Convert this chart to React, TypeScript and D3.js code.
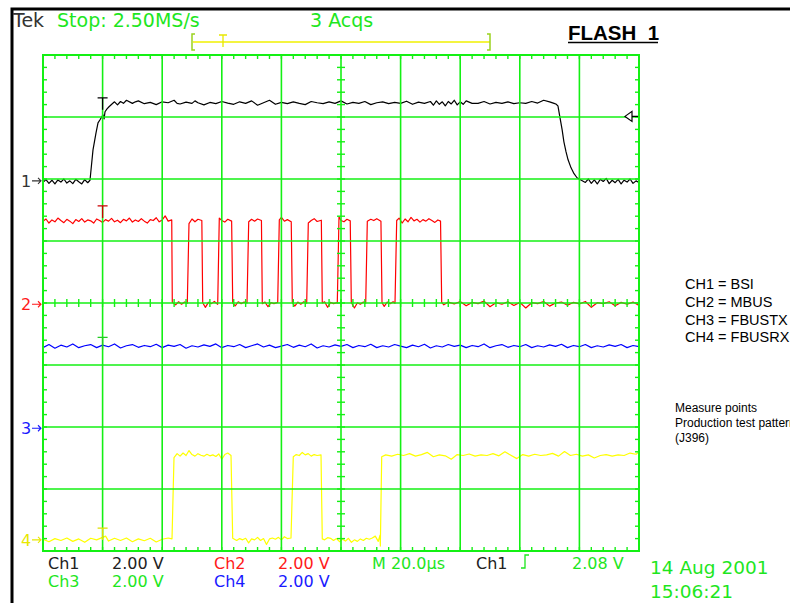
import React, { useRef, useEffect } from 'react';
import * as d3 from 'd3';

type Pt = [number, number]; // [time in µs, volts]

const W = 790;
const H = 603;

// 20 µs/div, trigger one division from the left edge
const timeDomain: [number, number] = [-20, 180];
const timeDivs = [-20, 0, 20, 40, 60, 80, 100, 120, 140, 160, 180];
const voltsPerDiv = 2;

const channelNames = ['1', '2', '3', '4'];
const traceColors = ['#000000', '#ff0000', '#0000ff', '#ffff00'];
const markerColors = ['#333333', '#ff1a1a', '#1a1aff', '#e8e800'];
// ground reference of each channel, in divisions above the bottom
const channelOffsets = [5.97, 3.98, 1.98, 0.18];
const triggerLevel = 2.08;
// "T" trigger markers above each trace (volts)
const triggerMarks = [2.68, 3.17, 2.93, 0.38];
const triggerMarkColors = ['#000000', '#cc0000', '#22cc22', '#e0e000'];

const legendLines = ['CH1 = BSI', 'CH2 = MBUS', 'CH3 = FBUSTX', 'CH4 = FBUSRX'];
const noteLines = ['Measure points', 'Production test pattern', '(J396)'];

// CH1 = BSI
const ch1: Pt[] = [
  [-20, -0.05], [-19, 0.04], [-18, -0.08], [-17, 0.02], [-16, -0.1], [-15, 0.03], [-14, -0.04], [-13, 0.06],
  [-12, -0.07], [-11, 0], [-10, -0.09], [-9, 0.05], [-8, -0.03], [-7, -0.1], [-6, 0.04], [-5, -0.06], [-4.23, 0.02],
  [-3.89, 0.35], [-3.22, 1.0], [-2.21, 1.55], [-1.54, 1.87], [-0.87, 1.97], [0.13, 2.13], [0.5, 2.0], [0.81, 2.23],
  [1.48, 2.32], [2.15, 2.39], [3.15, 2.48],
  [4, 2.55], [5, 2.45], [6, 2.56], [7, 2.5], [8, 2.6], [10, 2.5], [11, 2.55], [12, 2.58], [14, 2.49], [16, 2.53], [18, 2.46],
  [20, 2.55], [22, 2.52], [24, 2.6], [25, 2.5], [26, 2.48], [28, 2.54], [30, 2.5], [31, 2.58], [32, 2.52], [34, 2.45], [36, 2.53],
  [38, 2.49], [40, 2.56], [42, 2.51], [44, 2.47], [46, 2.55], [48, 2.5], [50, 2.58], [52, 2.44], [54, 2.52], [56, 2.6],
  [58, 2.47], [60, 2.53], [62, 2.49], [64, 2.55], [66, 2.5], [68, 2.46], [70, 2.56], [72, 2.52], [74, 2.49], [76, 2.55],
  [78, 2.5], [80, 2.58], [82, 2.48], [84, 2.53], [86, 2.5], [88, 2.56], [90, 2.46], [92, 2.52], [94, 2.55], [96, 2.49],
  [98, 2.53], [100, 2.5], [102, 2.57], [104, 2.47], [106, 2.54], [108, 2.5], [110, 2.56], [111, 2.44], [112, 2.58],
  [113, 2.47], [114, 2.55], [115, 2.42], [116, 2.56], [117, 2.48], [118, 2.6], [119, 2.45], [120, 2.55], [121, 2.47],
  [122, 2.58], [124, 2.5], [126, 2.5], [128, 2.56], [130, 2.48], [132, 2.53], [134, 2.5], [136, 2.55], [138, 2.49],
  [140, 2.52], [142, 2.5], [144, 2.56], [146, 2.51], [148, 2.6], [150, 2.55], [151.5, 2.5],
  [152.1, 2.48], [152.8, 2.42], [153.5, 2.03], [154.2, 1.65], [154.8, 1.26], [155.5, 0.94], [156.2, 0.68], [157.2, 0.42],
  [158.2, 0.23], [159.2, 0.1], [160.5, 0.03],
  [162, -0.05], [163, 0.06], [164, -0.08], [165, 0.03], [166, -0.1], [167, 0.05], [168, -0.02], [169, 0.08], [170, -0.09],
  [171, 0.02], [172, -0.06], [173, 0.05], [174, -0.1], [175, 0.02], [176, -0.04], [177, 0.06], [178, -0.08], [179, 0], [180, -0.05],
];

// CH2 = MBUS
const ch2: Pt[] = [
  [-20, 2.68], [-19, 2.75], [-18, 2.62], [-17, 2.72], [-16, 2.66], [-15, 2.78], [-14, 2.7], [-13, 2.63], [-12, 2.74],
  [-11, 2.68], [-10, 2.6], [-9, 2.73], [-8, 2.67], [-7, 2.76], [-6, 2.65], [-5, 2.72], [-4, 2.69], [-3, 2.62], [-2, 2.75],
  [-1, 2.7], [0, 2.64], [1, 2.73], [2, 2.68], [3, 2.77], [4, 2.66], [5, 2.71], [6, 2.63], [7, 2.74], [8, 2.69], [9, 2.78],
  [10, 2.65], [11, 2.72], [12, 2.67], [13, 2.76], [14, 2.68], [15, 2.62], [16, 2.73], [17, 2.7], [18, 2.79], [19, 2.66],
  [20, 2.72], [21, 2.85], [22, 2.68], [23.2, 2.72],
  [23.39, 0.06], [24.5, -0.02], [25.5, 0.08], [26.5, 0], [27.5, 0.07], [28.42, 0.03],
  [28.99, 2.6], [30, 2.75], [31, 2.66], [32, 2.74], [33.3, 2.7],
  [33.59, 0.05], [34.5, -0.1], [35.5, 0.06], [36.5, 0.02], [37.5, 0.09], [38.62, 0],
  [39.16, 2.78], [40, 2.7], [41, 2.65], [42, 2.74], [43.3, 2.68],
  [43.66, 0.04], [44.5, -0.05], [45.5, 0.08], [46.5, 0.02], [47.5, 0.07], [48.46, 0.04],
  [49.03, 2.66], [50, 2.74], [51, 2.68], [52, 2.75], [53.3, 2.7],
  [53.59, 0.02], [54.5, 0.07], [55.5, -0.08], [56.5, 0.05], [57.5, 0.02], [58.76, 0.06],
  [59.3, 2.72], [60, 2.8], [61, 2.68], [62, 2.73], [63.3, 2.66],
  [63.66, 0.05], [64.5, -0.06], [65.5, 0.07], [66.5, 0], [67.5, 0.08], [68.49, 0.03],
  [69.03, 2.62], [70, 2.7], [71, 2.76], [72, 2.67], [73.4, 2.71],
  [73.72, 0.04], [74.5, 0.08], [75.5, -0.1], [76.5, 0.06], [77.5, 0.02], [78.76, 0.05],
  [79.33, 2.82], [80, 2.7], [81, 2.66], [82, 2.74], [83.1, 2.69],
  [83.46, 0.06], [84.5, -0.12], [85.5, 0.05], [86.5, 0], [87.5, 0.07], [88.29, 0.03],
  [88.83, 2.68], [90, 2.74], [91, 2.7], [92, 2.76], [93.4, 2.68],
  [93.76, 0.05], [94.5, -0.07], [95.5, 0.07], [96.5, 0.02], [97.5, 0.08], [98.12, 0.03],
  [98.69, 2.7], [99.5, 2.78], [100.5, 2.62], [101.5, 2.75], [102.5, 2.66], [103.5, 2.8], [104.5, 2.69], [105.5, 2.74],
  [106.5, 2.65], [107.5, 2.73], [108.5, 2.68], [109.5, 2.76], [110.5, 2.7], [111.5, 2.64], [112.5, 2.72], [113.4, 2.68],
  [113.79, 0.06], [114.5, -0.02], [116, 0.07], [118, 0.01], [120, 0.09], [122, -0.05], [124, 0.06], [126, 0.02], [128, 0.1],
  [130, -0.08], [132, 0.05], [134, 0], [136, 0.08], [138, -0.04], [140, 0.06], [142, -0.12], [144, 0.05], [146, 0.02],
  [148, 0.09], [150, -0.06], [152, 0.04], [154, 0.07], [156, -0.03], [158, 0.06], [160, 0.01], [162, 0.09], [164, -0.1],
  [166, 0.05], [168, 0.02], [170, 0.08], [172, -0.05], [174, 0.06], [176, 0], [178, 0.07], [180, -0.04],
];

// CH3 = FBUSTX
const ch3: Pt[] = [
  [-20, 2.6], [-18, 2.7], [-16, 2.58], [-14, 2.68], [-12, 2.62], [-10, 2.72], [-8, 2.6], [-6, 2.66], [-4, 2.7], [-2, 2.6],
  [0, 2.68], [2, 2.63], [4, 2.72], [6, 2.59], [8, 2.66], [10, 2.7], [12, 2.61], [14, 2.67], [16, 2.63], [18, 2.71],
  [20, 2.6], [22, 2.68], [24, 2.64], [26, 2.7], [28, 2.58], [30, 2.66], [32, 2.62], [34, 2.69], [36, 2.64], [38, 2.72],
  [40, 2.6], [42, 2.67], [44, 2.63], [46, 2.7], [48, 2.6], [50, 2.66], [52, 2.72], [54, 2.62], [56, 2.68], [58, 2.6],
  [60, 2.65], [62, 2.7], [64, 2.61], [66, 2.68], [68, 2.63], [70, 2.72], [72, 2.59], [74, 2.66], [76, 2.62], [78, 2.69],
  [80, 2.64], [82, 2.7], [84, 2.6], [86, 2.67], [88, 2.63], [90, 2.71], [92, 2.6], [94, 2.66], [96, 2.62], [98, 2.7],
  [100, 2.65], [102, 2.6], [104, 2.68], [106, 2.63], [108, 2.71], [110, 2.59], [112, 2.66], [114, 2.62], [116, 2.7],
  [118, 2.64], [120, 2.68], [122, 2.6], [124, 2.67], [126, 2.63], [128, 2.72], [130, 2.6], [132, 2.66], [134, 2.7],
  [136, 2.61], [138, 2.67], [140, 2.63], [142, 2.7], [144, 2.6], [146, 2.66], [148, 2.62], [150, 2.69], [152, 2.64],
  [154, 2.71], [156, 2.6], [158, 2.67], [160, 2.63], [162, 2.7], [164, 2.6], [166, 2.66], [168, 2.62], [170, 2.69],
  [172, 2.64], [174, 2.7], [176, 2.6], [178, 2.67], [180, 2.63],
];

// CH4 = FBUSRX
const ch4: Pt[] = [
  [-20, 0.02], [-18, -0.06], [-16, 0.04], [-14, -0.02], [-12, 0.06], [-10, -0.05], [-8, 0.03], [-6, -0.08], [-4, 0.05],
  [-2, 0], [0, 0.08], [1, 0.12], [2, -0.04], [4, 0.05], [6, -0.02], [8, 0.06], [10, -0.06], [12, 0.03], [14, -0.03],
  [16, 0.05], [18, -0.07], [20, 0.02], [22, 0.06], [23.29, 0.03],
  [23.96, 2.65], [25, 2.78], [26, 2.7], [27, 2.8], [28, 2.72], [29, 2.88], [30, 2.75], [31, 2.7], [32, 2.78], [33, 2.73],
  [34, 2.7], [35, 2.76], [36, 2.71], [37, 2.74], [38, 2.69], [39, 2.77], [40, 2.6], [41, 2.75], [42, 2.8], [43.09, 2.72],
  [43.66, 0.05], [45, -0.02], [46, 0.04], [47, 0], [48, 0.05], [49, -0.1], [50, 0.03], [51, 0], [52, 0.08], [53, -0.02],
  [54, 0.04], [55, -0.15], [56, 0.03], [57, 0.06], [58, 0.02], [59, 0.08], [60, 0], [61, 0.1], [62, 0.04], [63.22, 0.06],
  [63.99, 2.68], [65, 2.75], [66, 2.72], [67, 2.82], [68, 2.74], [69, 2.78], [70, 2.7], [71, 2.75], [72, 2.72], [73.29, 2.74],
  [73.72, 0.03], [74.5, 0], [75.5, 0.07], [76.5, 0.05], [77.5, -0.02], [78.5, 0.04], [79.5, -0.06], [80.5, 0.02],
  [81.5, -0.04], [82.5, 0.05], [83.5, -0.08], [84.5, 0], [85.5, -0.05], [86.5, 0.03], [87.5, -0.02], [88.5, 0.05],
  [89.5, 0.02], [90.5, 0.06], [91.5, 0.12], [92.5, -0.05], [93.09, 0.15], [93.2, -0.2],
  [93.66, 2.68], [95, 2.74], [97, 2.7], [99, 2.76], [101, 2.72], [103, 2.78], [105, 2.7], [107, 2.75], [109, 2.82],
  [111, 2.68], [113, 2.74], [115, 2.71], [117, 2.6], [119, 2.75], [121, 2.72], [123, 2.77], [125, 2.7], [127, 2.74],
  [129, 2.72], [131, 2.78], [133, 2.71], [135, 2.84], [137, 2.73], [139, 2.62], [141, 2.75], [143, 2.7], [145, 2.76],
  [147, 2.72], [149, 2.74], [151, 2.79], [153, 2.7], [155, 2.85], [157, 2.72], [159, 2.76], [161, 2.7], [163, 2.74],
  [165, 2.64], [167, 2.72], [169, 2.75], [171, 2.7], [173, 2.74], [175, 2.72], [177, 2.8], [179, 2.76], [180, 2.83],
];

const traces = [ch1, ch2, ch3, ch4];

const GREEN = '#1ee61e';
const GRID = '#14f014';
const SCOPE_FONT = '"DejaVu Sans", sans-serif';
const ARIAL = '"Liberation Sans", Arial, sans-serif';

const Scope = () => {
  const svgRef = useRef<SVGSVGElement>(null);

  useEffect(() => {
    if (!svgRef.current) return;
    const svg = d3.select(svgRef.current);
    svg.selectAll('*').remove();

    const x = d3.scaleLinear().domain(timeDomain).range([43, 639]);
    const yDiv = d3.scaleLinear().domain([0, 8]).range([551, 55]);
    const yOf = (ci: number, v: number) => yDiv(channelOffsets[ci] + v / voltsPerDiv);

    svg.append('rect').attr('width', W).attr('height', H).attr('fill', '#fff');

    // black frame of the hardcopy
    svg.append('path')
      .attr('d', `M12,${H} V9 H${W}`)
      .attr('fill', 'none')
      .attr('stroke', '#000')
      .attr('stroke-width', 3);

    // traces
    traces.forEach((data, ci) => {
      const line = d3.line<Pt>()
        .x(d => x(d[0]))
        .y(d => yOf(ci, d[1]));
      svg.append('path')
        .datum(data)
        .attr('fill', 'none')
        .attr('stroke', traceColors[ci])
        .attr('stroke-width', 1.2)
        .attr('stroke-linejoin', 'round')
        .attr('d', line);
    });

    // graticule
    const g = svg.append('g').attr('stroke', GRID).attr('stroke-width', 1.6).attr('fill', 'none');
    const [x0, x1] = x.range();
    const [yb, yt] = yDiv.range();
    timeDivs.forEach(t => {
      g.append('line').attr('x1', x(t)).attr('x2', x(t)).attr('y1', yt).attr('y2', yb);
    });
    d3.range(0, 9).forEach(dv => {
      g.append('line').attr('x1', x0).attr('x2', x1).attr('y1', yDiv(dv)).attr('y2', yDiv(dv));
    });
    g.append('rect').attr('x', x0).attr('y', yt).attr('width', x1 - x0).attr('height', yb - yt).attr('stroke-width', 2);

    const xc = x(80);
    const yc = yDiv(4);
    const minorT = d3.range(timeDomain[0], timeDomain[1] + 0.1, 4);
    const minorV = d3.range(0, 8.01, 0.2);
    const tk = svg.append('g').attr('stroke', GRID).attr('stroke-width', 1.4);
    minorT.forEach(t => {
      tk.append('line').attr('x1', x(t)).attr('x2', x(t)).attr('y1', yt).attr('y2', yt + 4);
      tk.append('line').attr('x1', x(t)).attr('x2', x(t)).attr('y1', yb).attr('y2', yb - 4);
      tk.append('line').attr('x1', x(t)).attr('x2', x(t)).attr('y1', yc - 4).attr('y2', yc + 4);
    });
    minorV.forEach(dv => {
      tk.append('line').attr('x1', x0).attr('x2', x0 + 4).attr('y1', yDiv(dv)).attr('y2', yDiv(dv));
      tk.append('line').attr('x1', x1).attr('x2', x1 - 4).attr('y1', yDiv(dv)).attr('y2', yDiv(dv));
      tk.append('line').attr('x1', xc - 4).attr('x2', xc + 4).attr('y1', yDiv(dv)).attr('y2', yDiv(dv));
    });

    // trigger "T" markers
    triggerMarks.forEach((v, ci) => {
      const ty = yOf(ci, v);
      const tx = x(0);
      svg.append('path')
        .attr('d', `M${tx - 5},${ty} H${tx + 5} M${tx},${ty} V${ty + 12}`)
        .attr('stroke', triggerMarkColors[ci])
        .attr('stroke-width', 1.3)
        .attr('fill', 'none');
    });

    // trigger level arrow on the right
    const ly = yOf(0, triggerLevel);
    svg.append('path')
      .attr('d', `M625,${ly} L632,${ly - 5} L632,${ly + 5} Z M632,${ly} H638`)
      .attr('stroke', '#000')
      .attr('stroke-width', 1.2)
      .attr('fill', '#fff');

    // channel ground markers
    channelNames.forEach((name, ci) => {
      const gy = yOf(ci, 0);
      svg.append('text')
        .attr('x', 21)
        .attr('y', gy + 6)
        .attr('fill', markerColors[ci])
        .style('font-family', SCOPE_FONT)
        .style('font-size', '16px')
        .text(name);
      svg.append('path')
        .attr('d', `M32,${gy} H41 M38,${gy - 3} L41,${gy} L38,${gy + 3}`)
        .attr('stroke', markerColors[ci])
        .attr('stroke-width', 1.1)
        .attr('fill', 'none');
    });

    // header
    const header = [
      { t: 'Tek', x: 13, c: '#333' },
      { t: 'Stop: 2.50MS/s', x: 57, c: GREEN },
      { t: '3 Acqs', x: 310, c: GREEN },
    ];
    header.forEach(h => {
      svg.append('text')
        .attr('x', h.x).attr('y', 27)
        .attr('fill', h.c)
        .style('font-family', SCOPE_FONT)
        .style('font-size', '19px')
        .text(h.t);
    });

    // record position bar
    svg.append('line').attr('x1', 193).attr('x2', 490).attr('y1', 42).attr('y2', 42)
      .attr('stroke', '#f0f000').attr('stroke-width', 1.5);
    svg.append('path').attr('d', 'M195,34 H192 V50 H195 M487,34 H490 V50 H487')
      .attr('stroke', '#9ad21e').attr('stroke-width', 1.5).attr('fill', 'none');
    svg.append('path').attr('d', 'M219,35 H227 M223,35 V47')
      .attr('stroke', '#e8e800').attr('stroke-width', 1.3).attr('fill', 'none');

    // title
    svg.append('text')
      .attr('x', 568).attr('y', 40)
      .attr('fill', '#000')
      .style('font-family', ARIAL)
      .style('font-size', '20.5px')
      .style('font-weight', 'bold')
      .text('FLASH_1');
    svg.append('line').attr('x1', 568).attr('x2', 658).attr('y1', 42.5).attr('y2', 42.5)
      .attr('stroke', '#000').attr('stroke-width', 1.6);

    // legend
    legendLines.forEach((s, i) => {
      svg.append('text')
        .attr('x', 685).attr('y', 289 + i * 17.8)
        .attr('fill', '#000')
        .style('font-family', ARIAL)
        .style('font-size', '14.5px')
        .text(s);
    });
    noteLines.forEach((s, i) => {
      svg.append('text')
        .attr('x', 675).attr('y', 412 + i * 15)
        .attr('fill', '#000')
        .style('font-family', ARIAL)
        .style('font-size', '12px')
        .text(s);
    });

    // bottom readout
    const readout = [
      { t: 'Ch1', x: 48, y: 569, c: '#222' },
      { t: '2.00 V', x: 112, y: 569, c: '#222' },
      { t: 'Ch2', x: 214, y: 569, c: '#ff1a1a' },
      { t: '2.00 V', x: 278, y: 569, c: '#ff1a1a' },
      { t: 'M 20.0\u00b5s', x: 372, y: 569, c: GREEN },
      { t: 'Ch1', x: 476, y: 569, c: '#222' },
      { t: '2.08 V', x: 572, y: 569, c: GREEN },
      { t: 'Ch3', x: 48, y: 587, c: GREEN },
      { t: '2.00 V', x: 112, y: 587, c: GREEN },
      { t: 'Ch4', x: 214, y: 587, c: '#1a1aff' },
      { t: '2.00 V', x: 278, y: 587, c: '#1a1aff' },
      { t: '14 Aug 2001', x: 650, y: 574, c: GREEN, s: 18.5 },
      { t: '15:06:21', x: 650, y: 598, c: GREEN, s: 18.5 },
    ];
    readout.forEach(r => {
      svg.append('text')
        .attr('x', r.x).attr('y', r.y)
        .attr('fill', r.c)
        .style('font-family', SCOPE_FONT)
        .style('font-size', `${r.s || 16}px`)
        .text(r.t);
    });
    // rising-edge trigger symbol
    svg.append('path')
      .attr('d', 'M521,568 H525 V555 H529')
      .attr('stroke', GREEN).attr('stroke-width', 1.3).attr('fill', 'none');
  }, []);

  return (
    <svg
      ref={svgRef}
      width={W}
      height={H}
      style={{ position: 'absolute', left: 0, top: 0, display: 'block' }}
    />
  );
};

export default function App() {
  return <Scope />;
}
